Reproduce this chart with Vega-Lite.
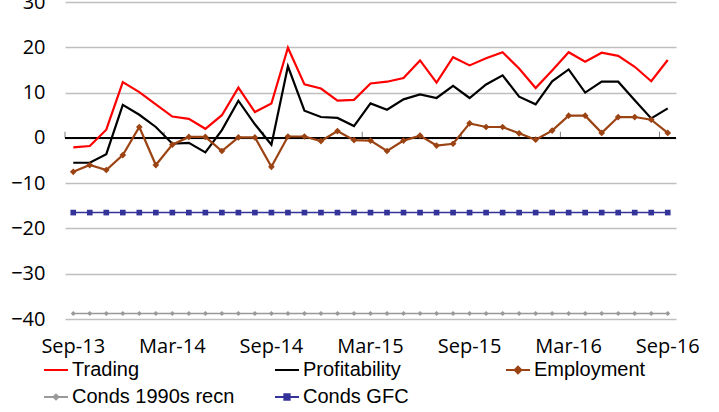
{
  "$schema": "https://vega.github.io/schema/vega-lite/v6.json",
  "autosize": "none",
  "width": 611,
  "height": 317,
  "padding": {"left": 65, "top": 2, "right": 43, "bottom": 93},
  "background": "white",
  "config": {"view": {"stroke": null}},
  "data": {"values": [
    {"month": "Sep-13", "Trading": -2.1, "Profitability": -5.5, "Employment": -7.5, "Conds 1990s recn": -38.8, "Conds GFC": -16.5},
    {"month": "Oct-13", "Trading": -1.8, "Profitability": -5.5, "Employment": -6.0, "Conds 1990s recn": -38.8, "Conds GFC": -16.5},
    {"month": "Nov-13", "Trading": 1.8, "Profitability": -3.6, "Employment": -7.1, "Conds 1990s recn": -38.8, "Conds GFC": -16.5},
    {"month": "Dec-13", "Trading": 12.3, "Profitability": 7.3, "Employment": -3.8, "Conds 1990s recn": -38.8, "Conds GFC": -16.5},
    {"month": "Jan-14", "Trading": 10.1, "Profitability": 5.1, "Employment": 2.4, "Conds 1990s recn": -38.8, "Conds GFC": -16.5},
    {"month": "Feb-14", "Trading": 7.4, "Profitability": 2.4, "Employment": -6.0, "Conds 1990s recn": -38.8, "Conds GFC": -16.5},
    {"month": "Mar-14", "Trading": 4.7, "Profitability": -1.3, "Employment": -1.5, "Conds 1990s recn": -38.8, "Conds GFC": -16.5},
    {"month": "Apr-14", "Trading": 4.2, "Profitability": -1.1, "Employment": 0.2, "Conds 1990s recn": -38.8, "Conds GFC": -16.5},
    {"month": "May-14", "Trading": 2.0, "Profitability": -3.2, "Employment": 0.2, "Conds 1990s recn": -38.8, "Conds GFC": -16.5},
    {"month": "Jun-14", "Trading": 5.0, "Profitability": 1.7, "Employment": -2.9, "Conds 1990s recn": -38.8, "Conds GFC": -16.5},
    {"month": "Jul-14", "Trading": 11.1, "Profitability": 8.2, "Employment": 0.1, "Conds 1990s recn": -38.8, "Conds GFC": -16.5},
    {"month": "Aug-14", "Trading": 5.7, "Profitability": 3.0, "Employment": 0.1, "Conds 1990s recn": -38.8, "Conds GFC": -16.5},
    {"month": "Sep-14", "Trading": 7.6, "Profitability": -1.5, "Employment": -6.4, "Conds 1990s recn": -38.8, "Conds GFC": -16.5},
    {"month": "Oct-14", "Trading": 19.9, "Profitability": 15.8, "Employment": 0.3, "Conds 1990s recn": -38.8, "Conds GFC": -16.5},
    {"month": "Nov-14", "Trading": 11.8, "Profitability": 6.0, "Employment": 0.3, "Conds 1990s recn": -38.8, "Conds GFC": -16.5},
    {"month": "Dec-14", "Trading": 10.9, "Profitability": 4.6, "Employment": -0.7, "Conds 1990s recn": -38.8, "Conds GFC": -16.5},
    {"month": "Jan-15", "Trading": 8.2, "Profitability": 4.4, "Employment": 1.5, "Conds 1990s recn": -38.8, "Conds GFC": -16.5},
    {"month": "Feb-15", "Trading": 8.4, "Profitability": 2.6, "Employment": -0.5, "Conds 1990s recn": -38.8, "Conds GFC": -16.5},
    {"month": "Mar-15", "Trading": 12.0, "Profitability": 7.6, "Employment": -0.6, "Conds 1990s recn": -38.8, "Conds GFC": -16.5},
    {"month": "Apr-15", "Trading": 12.4, "Profitability": 6.2, "Employment": -2.9, "Conds 1990s recn": -38.8, "Conds GFC": -16.5},
    {"month": "May-15", "Trading": 13.2, "Profitability": 8.5, "Employment": -0.6, "Conds 1990s recn": -38.8, "Conds GFC": -16.5},
    {"month": "Jun-15", "Trading": 17.1, "Profitability": 9.6, "Employment": 0.5, "Conds 1990s recn": -38.8, "Conds GFC": -16.5},
    {"month": "Jul-15", "Trading": 12.2, "Profitability": 8.8, "Employment": -1.7, "Conds 1990s recn": -38.8, "Conds GFC": -16.5},
    {"month": "Aug-15", "Trading": 17.8, "Profitability": 11.5, "Employment": -1.3, "Conds 1990s recn": -38.8, "Conds GFC": -16.5},
    {"month": "Sep-15", "Trading": 16.0, "Profitability": 8.8, "Employment": 3.2, "Conds 1990s recn": -38.8, "Conds GFC": -16.5},
    {"month": "Oct-15", "Trading": 17.6, "Profitability": 11.8, "Employment": 2.4, "Conds 1990s recn": -38.8, "Conds GFC": -16.5},
    {"month": "Nov-15", "Trading": 18.9, "Profitability": 13.8, "Employment": 2.4, "Conds 1990s recn": -38.8, "Conds GFC": -16.5},
    {"month": "Dec-15", "Trading": 15.3, "Profitability": 9.1, "Employment": 1.0, "Conds 1990s recn": -38.8, "Conds GFC": -16.5},
    {"month": "Jan-16", "Trading": 11.0, "Profitability": 7.4, "Employment": -0.4, "Conds 1990s recn": -38.8, "Conds GFC": -16.5},
    {"month": "Feb-16", "Trading": 14.9, "Profitability": 12.5, "Employment": 1.6, "Conds 1990s recn": -38.8, "Conds GFC": -16.5},
    {"month": "Mar-16", "Trading": 18.9, "Profitability": 15.1, "Employment": 4.9, "Conds 1990s recn": -38.8, "Conds GFC": -16.5},
    {"month": "Apr-16", "Trading": 16.8, "Profitability": 10.0, "Employment": 4.9, "Conds 1990s recn": -38.8, "Conds GFC": -16.5},
    {"month": "May-16", "Trading": 18.8, "Profitability": 12.4, "Employment": 1.1, "Conds 1990s recn": -38.8, "Conds GFC": -16.5},
    {"month": "Jun-16", "Trading": 18.1, "Profitability": 12.4, "Employment": 4.6, "Conds 1990s recn": -38.8, "Conds GFC": -16.5},
    {"month": "Jul-16", "Trading": 15.7, "Profitability": 8.3, "Employment": 4.6, "Conds 1990s recn": -38.8, "Conds GFC": -16.5},
    {"month": "Aug-16", "Trading": 12.5, "Profitability": 4.3, "Employment": 4.0, "Conds 1990s recn": -38.8, "Conds GFC": -16.5},
    {"month": "Sep-16", "Trading": 17.2, "Profitability": 6.5, "Employment": 1.1, "Conds 1990s recn": -38.8, "Conds GFC": -16.5}
  ]},
  "transform": [
    {"fold": ["Trading", "Profitability", "Employment", "Conds 1990s recn", "Conds GFC"], "as": ["series", "value"]}
  ],
  "encoding": {
    "x": {
      "field": "month", "type": "ordinal", "sort": null,
      "scale": {
        "type": "band", "paddingInner": 0, "paddingOuter": 0,
        "domain": ["Sep-13", "Oct-13", "Nov-13", "Dec-13", "Jan-14", "Feb-14", "Mar-14", "Apr-14", "May-14", "Jun-14", "Jul-14", "Aug-14",
                   "Sep-14", "Oct-14", "Nov-14", "Dec-14", "Jan-15", "Feb-15", "Mar-15", "Apr-15", "May-15", "Jun-15", "Jul-15", "Aug-15",
                   "Sep-15", "Oct-15", "Nov-15", "Dec-15", "Jan-16", "Feb-16", "Mar-16", "Apr-16", "May-16", "Jun-16", "Jul-16", "Aug-16", "Sep-16"]
      },
      "axis": {
        "orient": "bottom", "title": null, "domain": false, "ticks": false, "grid": false, "labelAngle": 0,
        "labelPadding": 17, "labelFont": "Open Sans", "labelFontSize": 20, "labelColor": "#000",
        "values": ["Sep-13", "Mar-14", "Sep-14", "Mar-15", "Sep-15", "Mar-16", "Sep-16"]
      }
    },
    "y": {
      "field": "value", "type": "quantitative",
      "scale": {"domain": [-40, 30], "nice": false, "zero": false},
      "axis": {
        "title": null, "domain": false, "ticks": false, "grid": true,
        "gridColor": "#bfbfbf", "gridWidth": 1.5,
        "values": [-40, -30, -20, -10, 0, 10, 20, 30],
        "labelPadding": 20, "labelFont": "Open Sans", "labelFontSize": 20, "labelColor": "#000"
      }
    },
    "color": {
      "field": "series", "type": "nominal",
      "scale": {
        "domain": ["Trading", "Profitability", "Employment", "Conds 1990s recn", "Conds GFC"],
        "range": ["#ff0000", "#000000", "#9c4313", "#999999", "#333399"]
      },
      "legend": {
        "orient": "none", "legendX": -22, "legendY": 355,
        "direction": "horizontal", "columns": 3, "gridAlign": "all",
        "columnPadding": 36, "rowPadding": 4, "padding": 0, "offset": 0,
        "title": null, "symbolSize": 576, "symbolStrokeWidth": 2, "symbolOpacity": 1,
        "labelFont": "Liberation Sans", "labelFontSize": 20, "labelColor": "#000",
        "labelOffset": 3, "labelLimit": 400
      }
    }
  },
  "layer": [
    {
      "transform": [{"filter": "false"}],
      "mark": {"type": "point", "filled": true, "opacity": 1, "strokeWidth": 2},
      "encoding": {
        "stroke": {
          "field": "series", "type": "nominal",
          "scale": {
            "domain": ["Trading", "Profitability", "Employment", "Conds 1990s recn", "Conds GFC"],
            "range": ["#ff0000", "#000000", "#9c4313", "#999999", "#333399"]
          }
        },
        "shape": {
          "field": "series", "type": "nominal",
          "scale": {
            "domain": ["Trading", "Profitability", "Employment", "Conds 1990s recn", "Conds GFC"],
            "range": [
              "M-1,0H1",
              "M-1,0H1",
              "M-1,0H1M0,-0.28L0.28,0L0,0.28L-0.28,0Z",
              "M-1,0H1M0,-0.2L0.2,0L0,0.2L-0.2,0Z",
              "M-1,0H1M-0.22,-0.22H0.22V0.22H-0.22Z"
            ]
          }
        }
      }
    },
    {
      "transform": [
        {"filter": {"field": "series", "equal": "Trading"}},
        {"filter": {"field": "month", "oneOf": ["Sep-13", "Mar-14", "Sep-14", "Mar-15", "Sep-15", "Mar-16", "Sep-16"]}}
      ],
      "mark": {"type": "rule", "color": "#7f7f7f", "strokeWidth": 1},
      "encoding": {
        "x": {"field": "month", "type": "ordinal", "sort": null, "bandPosition": 0},
        "y": {"datum": 0},
        "y2": {"datum": 1.35},
        "color": null
      }
    },
    {
      "mark": {"type": "rule", "color": "#000000", "strokeWidth": 1},
      "encoding": {"y": {"datum": 0}, "x": null, "color": null}
    },
    {
      "transform": [{"filter": {"field": "series", "oneOf": ["Trading", "Profitability", "Employment"]}}],
      "mark": {"type": "line", "strokeWidth": 2.2}
    },
    {
      "transform": [{"filter": {"field": "series", "oneOf": ["Conds 1990s recn", "Conds GFC"]}}],
      "mark": {"type": "line", "strokeWidth": 1.5}
    },
    {
      "transform": [{"filter": {"field": "series", "equal": "Employment"}}],
      "mark": {"type": "point", "shape": "diamond", "filled": true, "size": 45, "opacity": 1}
    },
    {
      "transform": [{"filter": {"field": "series", "equal": "Conds 1990s recn"}}],
      "mark": {"type": "point", "shape": "diamond", "filled": true, "size": 25, "opacity": 1}
    },
    {
      "transform": [{"filter": {"field": "series", "equal": "Conds GFC"}}],
      "mark": {"type": "point", "shape": "square", "filled": true, "size": 32, "opacity": 1}
    }
  ]
}
